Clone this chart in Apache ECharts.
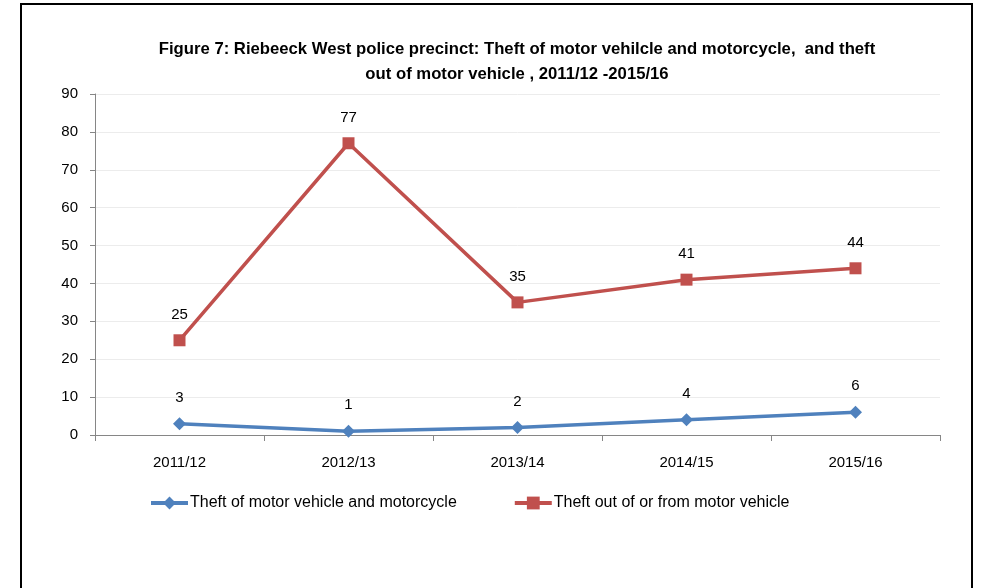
<!DOCTYPE html>
<html>
<head>
<meta charset="utf-8">
<script src="https://cdn.jsdelivr.net/npm/echarts@6/dist/echarts.min.js"></script>
<style>
  html, body { margin: 0; padding: 0; background: #fff; }
  #chart { width: 984px; height: 588px; }
</style>
</head>
<body>
<div id="chart"></div>
<script>
// Financial years on the category axis
const years = ['2011/12', '2012/13', '2013/14', '2014/15', '2015/16'];

// Reported cases per year
const theftOfVehicle = [3, 1, 2, 4, 6];
const theftOutOfVehicle = [25, 77, 35, 41, 44];

const seriesNames = [
  'Theft of motor vehicle and motorcycle',
  'Theft out of or from motor vehicle'
];

const titleLines = [
  'Figure 7: Riebeeck West police precinct: Theft of motor vehilcle and motorcycle,  and theft',
  'out of motor vehicle , 2011/12 -2015/16'
];

const font = '"Liberation Sans", Arial, sans-serif';

const chart = echarts.init(document.getElementById('chart'));

chart.setOption({
  animation: false,
  backgroundColor: '#fff',
  textStyle: { fontFamily: font },
  title: {
    text: titleLines.join('\n'),
    left: 512,
    textAlign: 'center',
    top: 32,
    textStyle: {
      fontFamily: font,
      fontSize: 16.7,
      fontWeight: 'bold',
      color: '#000',
      lineHeight: 25
    }
  },
  graphic: [{
    type: 'rect',
    shape: { x: 21, y: 4, width: 951, height: 600 },
    style: { fill: 'none', stroke: '#000', lineWidth: 2 },
    silent: true
  }],
  legend: {
    top: 490,
    left: 144,
    itemGap: 56,
    itemWidth: 37,
    itemHeight: 16,
    lineStyle: { width: 4 },
    textStyle: { fontFamily: font, fontSize: 16, color: '#000', padding: [0, 0, 0, -3] },
    data: seriesNames
  },
  grid: { left: 95, right: 44, top: 94, bottom: 153 },
  xAxis: {
    type: 'category',
    data: years,
    boundaryGap: true,
    axisLine: { lineStyle: { color: '#868686', width: 1 } },
    axisTick: { show: true, length: 6, lineStyle: { color: '#868686' } },
    axisLabel: { color: '#000', fontSize: 15, margin: 20, fontFamily: font }
  },
  yAxis: {
    type: 'value',
    min: 0,
    max: 90,
    interval: 10,
    axisLine: { show: true, lineStyle: { color: '#868686', width: 1 } },
    axisTick: { show: true, length: 5, lineStyle: { color: '#868686' } },
    axisLabel: { color: '#000', fontSize: 15, margin: 17, fontFamily: font },
    splitLine: { lineStyle: { color: '#ececec', width: 1 } }
  },
  series: [
    {
      name: seriesNames[0],
      type: 'line',
      data: theftOfVehicle,
      symbol: 'diamond',
      symbolSize: 13,
      itemStyle: { color: '#4f81bd' },
      lineStyle: { color: '#4f81bd', width: 3.5 },
      label: { show: true, position: 'top', distance: 12, color: '#000', fontSize: 15, fontFamily: font }
    },
    {
      name: seriesNames[1],
      type: 'line',
      data: theftOutOfVehicle,
      symbol: 'rect',
      symbolSize: 12,
      itemStyle: { color: '#c0504d' },
      lineStyle: { color: '#c0504d', width: 3.5 },
      label: { show: true, position: 'top', distance: 12, color: '#000', fontSize: 15, fontFamily: font }
    }
  ]
});
</script>
</body>
</html>
